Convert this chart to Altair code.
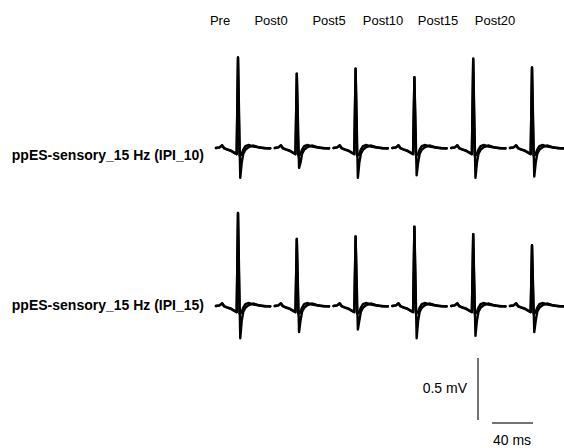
import altair as alt
import pandas as pd

# ---- data ----
conditions = ["Pre", "Post0", "Post5", "Post10", "Post15", "Post20"]
row_labels = ["ppES-sensory_15 Hz (IPI_10)", "ppES-sensory_15 Hz (IPI_15)"]
# peak / trough amplitudes (mV) for each trace
peak_ipi10 = [0.73, 0.60, 0.64, 0.57, 0.72, 0.65]
trough_ipi10 = [-0.24, -0.16, -0.24, -0.22, -0.24, -0.23]
peak_ipi15 = [0.75, 0.54, 0.56, 0.64, 0.58, 0.49]
trough_ipi15 = [-0.26, -0.21, -0.19, -0.26, -0.24, -0.21]
# shared waveform shape (ms relative to spike, mV relative to baseline); "P"/"T" = peak/trough
shape_t = [-21.5, -18, -15.5, -13.5, -10.5, -6.5, -3.2, -1.3, 0, 2.2, 3.6, 5.2, 7.4, 10.5, 14.6, 19.5, 26, 31.5]
shape_v = [0, 0.005, 0.022, 0, -0.011, -0.022, -0.038, -0.048, "P", "T", -0.12, -0.045, -0.012, 0.008, 0.02, 0.008, -0.002, -0.002]
shape2_t = [-21.5, -18, -15.5, -13.5, -10.5, -6.5, -3.2, -1.3, 0, 1.4, 3.2, 5.0, 7.2, 10.0, 15.0, 22.0, 31.5]
shape2_v = [0, 0.005, 0.02, -0.004, -0.014, -0.026, -0.042, -0.05, "P", -0.06, -0.055, -0.015, 0.015, 0.024, 0.012, 0.002, -0.004]
scale_mv = 0.5
scale_ms = 40

# ---- layout (pixels converted to data units) ----
PX_PER_MS = 1.025
PX_PER_MV = 124.0
W, H = 564, 448

def xms(px):
    return px / PX_PER_MS

def ymv(px):
    return -px / PX_PER_MV

row_base_px = [148, 306]
spike0_px, spike_step_px = 238, 58.8

rows = []
peaks = [peak_ipi10, peak_ipi15]
troughs = [trough_ipi10, trough_ipi15]
for r in range(2):
    for c, cond in enumerate(conditions):
        x0 = xms(spike0_px + c * spike_step_px)
        y0 = ymv(row_base_px[r])
        for s, (tt, vv) in enumerate([(shape_t, shape_v), (shape2_t, shape2_v)]):
            for i, (t, v) in enumerate(zip(tt, vv)):
                if v == "P":
                    v = peaks[r][c]
                elif v == "T":
                    v = troughs[r][c]
                rows.append({"trace": f"{r}-{c}-{s}", "idx": i, "x": x0 + t, "y": y0 + v})
df = pd.DataFrame(rows)

xs = alt.Scale(domain=[0, xms(W)], nice=False, zero=False)
ys = alt.Scale(domain=[ymv(H), 0], nice=False, zero=False)

lines = alt.Chart(df).mark_line(color="black", strokeWidth=2.4, strokeJoin="round", strokeCap="round").encode(
    x=alt.X("x:Q", scale=xs, axis=None),
    y=alt.Y("y:Q", scale=ys, axis=None),
    detail="trace:N",
    order="idx:Q",
)

header_px = [220, 271, 329, 383, 438, 495]
hdr = pd.DataFrame({"t": conditions, "x": [xms(p) for p in header_px], "y": [ymv(25)] * 6})
headers = alt.Chart(hdr).mark_text(fontSize=13, font="Liberation Sans", align="center", baseline="alphabetic", color="black").encode(
    x=alt.X("x:Q", scale=xs), y=alt.Y("y:Q", scale=ys), text="t:N")

rl = pd.DataFrame({"t": row_labels, "x": [xms(204)] * 2, "y": [ymv(160), ymv(310)]})
rlab = alt.Chart(rl).mark_text(fontSize=14, font="Liberation Sans", fontWeight="bold", align="right", baseline="alphabetic", color="black").encode(
    x=alt.X("x:Q", scale=xs), y=alt.Y("y:Q", scale=ys), text="t:N")

# scale bars
bar_x = xms(478)
bar_y0 = ymv(420)
vbar = pd.DataFrame({"x": [bar_x], "y": [bar_y0], "y2": [bar_y0 + scale_mv]})
hb_x0 = xms(492)
hbar = pd.DataFrame({"x": [hb_x0], "x2": [hb_x0 + scale_ms], "y": [ymv(423)]})
vrule = alt.Chart(vbar).mark_rule(color="#444444", strokeWidth=1.5).encode(
    x=alt.X("x:Q", scale=xs), y=alt.Y("y:Q", scale=ys), y2="y2:Q")
hrule = alt.Chart(hbar).mark_rule(color="#444444", strokeWidth=1.5).encode(
    x=alt.X("x:Q", scale=xs), x2="x2:Q", y=alt.Y("y:Q", scale=ys))
sl = pd.DataFrame({"t": [f"{scale_mv} mV", f"{scale_ms} ms"],
                   "x": [xms(467), xms(512)], "y": [ymv(393), ymv(445)]})
slab1 = alt.Chart(sl.iloc[[0]]).mark_text(fontSize=14, font="Liberation Sans", align="right", baseline="alphabetic", color="black").encode(
    x=alt.X("x:Q", scale=xs), y=alt.Y("y:Q", scale=ys), text="t:N")
slab2 = alt.Chart(sl.iloc[[1]]).mark_text(fontSize=14, font="Liberation Sans", align="center", baseline="alphabetic", color="black").encode(
    x=alt.X("x:Q", scale=xs), y=alt.Y("y:Q", scale=ys), text="t:N")

chart = alt.layer(lines, headers, rlab, vrule, hrule, slab1, slab2).properties(
    width=W, height=H, padding=0, autosize=alt.AutoSizeParams(type="none"), background="white"
).configure_view(stroke=None)

chart.save("out.html", embed_options={"renderer": "svg", "actions": False})
